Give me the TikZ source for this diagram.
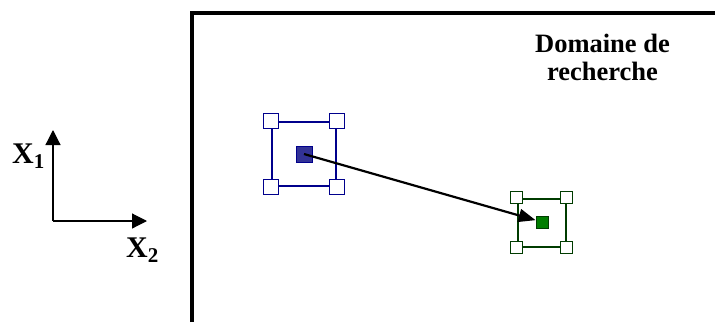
\documentclass[tikz,border=0pt]{standalone}
\usepackage{fontspec}
\setmainfont{Liberation Serif}
\usetikzlibrary{arrows.meta,positioning}
\definecolor{navyedge}{RGB}{0,0,140}
\definecolor{navyfill}{RGB}{50,50,150}
\definecolor{pineedge}{RGB}{0,60,0}
\definecolor{pinefill}{RGB}{0,125,0}
\tikzset{
  handle/.style={draw,fill=white,line width=1.3pt,minimum size=#1,inner sep=0pt},
  frame/.style={draw,line width=2pt,minimum size=#1,inner sep=0pt},
  point/.style={draw,line width=0.8pt,minimum size=#1,inner sep=0pt},
  axis/.style={line width=1.2pt,-{Triangle[length=15pt,width=15pt]}},
  move/.style={line width=2.2pt,-{Triangle[length=17pt,width=13pt]}},
}

\begin{document}
\begin{tikzpicture}[x=1pt,y=-1pt]
  \useasboundingbox (0,0) rectangle (715,322);
  % search domain (open on the right and bottom)
  \draw[line width=3.5pt] (192,322) -- (192,13) -- (715,13);
  \node[font=\fontsize{26.5}{28}\selectfont\bfseries,align=center] (dom) at (602.5,57) {Domaine de\\recherche};

  % axes
  \coordinate (o) at (53,221);
  \coordinate (x1end) at (53,130);
  \coordinate (x2end) at (147,221);
  \draw[axis] (o) -- (x1end);
  \draw[axis] (o) -- (x2end);
  \node[anchor=base west,inner sep=0pt,font=\fontsize{30}{32}\selectfont\bfseries] (lx1) at (12,163) {X\textsubscript{1}};
  \node[anchor=base west,inner sep=0pt,font=\fontsize{30}{32}\selectfont\bfseries] (lx2) at (126,257) {X\textsubscript{2}};

  % first simplex (blue)
  \node[frame=64pt,draw=navyedge] (bq) at (304,154) {};
  \foreach \a in {north west,north east,south west,south east}
    \node[handle=15pt,draw=navyedge] at (bq.\a) {};
  \node[point=16pt,draw=navyedge,fill=navyfill] (bc) at (304,154) {};

  % second simplex (green)
  \node[frame=48pt,draw=pineedge] (gq) at (541.5,222.5) {};
  \foreach \a in {north west,north east,south west,south east}
    \node[handle=12pt,draw=pineedge] at (gq.\a) {};
  \node[point=12pt,draw=pineedge,fill=pinefill] (gc) at (542,222) {};

  \draw[move] (bc.center) -- (gc);
\end{tikzpicture}
\end{document}
